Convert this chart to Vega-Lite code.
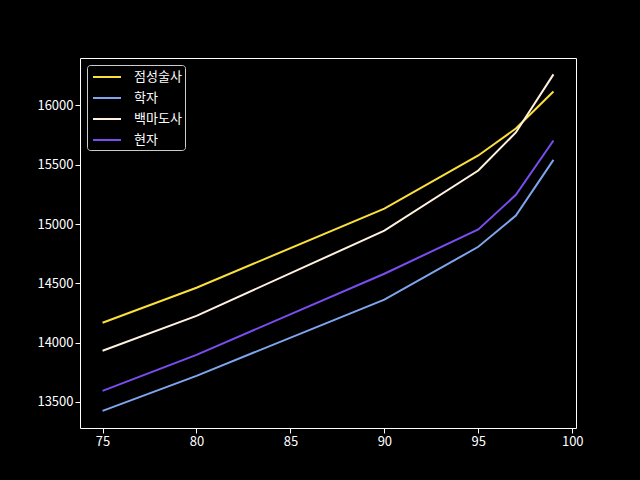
{
  "$schema": "https://vega.github.io/schema/vega-lite/v6.json",
  "autosize": {"type": "none"},
  "width": 496,
  "height": 370,
  "padding": {"left": 80, "top": 58, "right": 64, "bottom": 52},
  "background": "#000000",
  "config": {
    "font": "Noto Sans CJK KR",
    "view": {"stroke": "#ffffff", "strokeWidth": 1},
    "axis": {
      "grid": false,
      "domain": false,
      "tickColor": "#ffffff",
      "tickSize": 5,
      "labelColor": "#ffffff",
      "labelFontSize": 13,
      "labelFont": "Noto Sans CJK KR",
      "title": null
    }
  },
  "data": {
    "values": [
      {"x": 75, "y": 14167, "s": "점성술사"},
      {"x": 80, "y": 14463, "s": "점성술사"},
      {"x": 90, "y": 15130, "s": "점성술사"},
      {"x": 95, "y": 15578, "s": "점성술사"},
      {"x": 97, "y": 15806, "s": "점성술사"},
      {"x": 99, "y": 16118, "s": "점성술사"},
      {"x": 75, "y": 13424, "s": "학자"},
      {"x": 80, "y": 13720, "s": "학자"},
      {"x": 90, "y": 14362, "s": "학자"},
      {"x": 95, "y": 14808, "s": "학자"},
      {"x": 97, "y": 15071, "s": "학자"},
      {"x": 99, "y": 15541, "s": "학자"},
      {"x": 75, "y": 13931, "s": "백마도사"},
      {"x": 80, "y": 14226, "s": "백마도사"},
      {"x": 90, "y": 14944, "s": "백마도사"},
      {"x": 95, "y": 15451, "s": "백마도사"},
      {"x": 97, "y": 15772, "s": "백마도사"},
      {"x": 99, "y": 16262, "s": "백마도사"},
      {"x": 75, "y": 13593, "s": "현자"},
      {"x": 80, "y": 13897, "s": "현자"},
      {"x": 90, "y": 14581, "s": "현자"},
      {"x": 95, "y": 14955, "s": "현자"},
      {"x": 97, "y": 15246, "s": "현자"},
      {"x": 99, "y": 15704, "s": "현자"}
    ]
  },
  "mark": {"type": "line", "strokeWidth": 2, "clip": true},
  "encoding": {
    "x": {
      "field": "x",
      "type": "quantitative",
      "scale": {"domain": [73.8, 100.2], "nice": false, "zero": false},
      "axis": {"values": [75, 80, 85, 90, 95, 100], "format": "d"}
    },
    "y": {
      "field": "y",
      "type": "quantitative",
      "scale": {"domain": [13280, 16400], "nice": false, "zero": false},
      "axis": {"values": [13500, 14000, 14500, 15000, 15500, 16000], "format": "d"}
    },
    "color": {
      "field": "s",
      "type": "nominal",
      "scale": {
        "domain": ["점성술사", "학자", "백마도사", "현자"],
        "range": ["#fbe03c", "#7ea6ee", "#fff1de", "#7a4df2"]
      },
      "legend": {
        "title": null,
        "orient": "top-left",
        "offset": 7,
        "fillColor": "#000000",
        "strokeColor": "#cccccc",
        "cornerRadius": 3,
        "padding": 3,
        "rowPadding": 5,
        "symbolType": "M-0.75,0L2.75,0",
        "symbolSize": 256,
        "symbolStrokeWidth": 2,
        "labelColor": "#ffffff",
        "labelFontSize": 13,
        "labelFont": "Noto Sans CJK KR",
        "labelOffset": 26
      }
    }
  }
}
